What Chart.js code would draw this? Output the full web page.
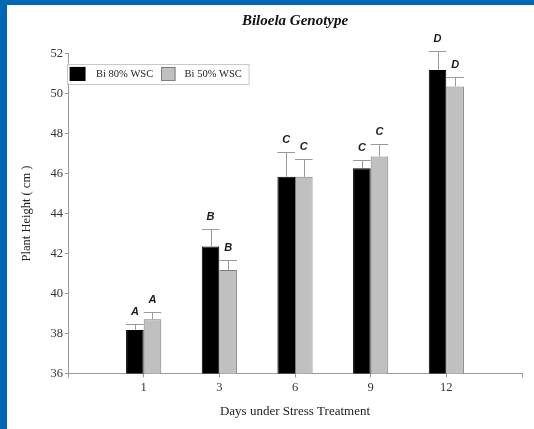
<!DOCTYPE html>
<html><head><meta charset="utf-8">
<script src="https://cdn.jsdelivr.net/npm/chart.js@4"></script>
<style>
html,body{margin:0;padding:0;background:#0068b4;width:534px;height:429px;overflow:hidden}
#wrap{position:absolute;left:7px;top:5px;width:527px;height:424px;background:#fff}
canvas{display:block}
</style></head><body><div id="wrap"><canvas id="c" width="527" height="424"></canvas></div>
<script>
// ---- data ----
const categories = ['1', '3', '6', '9', '12'];
const seriesNames = ['Bi 80% WSC', 'Bi 50% WSC'];
const bi80 = [38.18, 42.35, 45.84, 46.26, 51.18];
const bi50 = [38.71, 41.17, 45.84, 46.85, 50.35];
const err80 = [0.30, 0.85, 1.22, 0.44, 0.97];
const err50 = [0.38, 0.50, 0.86, 0.61, 0.45];
const letters80 = ['A', 'B', 'C', 'C', 'D'];
const letters50 = ['A', 'B', 'C', 'C', 'D'];
const yTicks = [36, 38, 40, 42, 44, 46, 48, 50, 52];

// empty slots before and after so the categories sit one interval in from each end
const pad = a => [null, ...a, null];
const xLabels = ['', ...categories, ''];

const SERIF = "'Liberation Serif', 'Times New Roman', serif";
const SANS = "'Liberation Sans', Arial, sans-serif";

const errorBarsPlugin = {
  id: 'errorBars',
  afterDatasetsDraw(chart) {
    const ctx = chart.ctx;
    const ys = chart.scales.y;
    chart.data.datasets.forEach((ds, i) => {
      const meta = chart.getDatasetMeta(i);
      meta.data.forEach((bar, j) => {
        const v = ds.data[j];
        if (v == null) return;
        const e = ds.errors[j];
        const x = Math.round(bar.x) + 0.5;
        const yTop = Math.round(ys.getPixelForValue(v + e)) + 0.5;
        const yBar = bar.y;
        const w = bar.width;
        ctx.save();
        ctx.strokeStyle = '#9a9a9a';
        ctx.lineWidth = 1;
        ctx.beginPath();
        ctx.moveTo(x, yBar);
        ctx.lineTo(x, yTop);
        ctx.moveTo(bar.x - w / 2, yTop);
        ctx.lineTo(bar.x + w / 2, yTop);
        ctx.stroke();
        // significance letter
        ctx.fillStyle = '#1a1a1a';
        ctx.font = 'italic bold 11px ' + SANS;
        ctx.textAlign = 'center';
        ctx.textBaseline = 'middle';
        ctx.fillText(ds.letters[j], bar.x, yTop - 12.5);
        ctx.restore();
      });
    });
  }
};

const innerLegendPlugin = {
  id: 'innerLegend',
  afterDraw(chart) {
    const ctx = chart.ctx;
    const ca = chart.chartArea;
    const x0 = ca.left - 1, y0 = ca.top + 10, w = 181.6, h = 20;
    ctx.save();
    ctx.fillStyle = '#fff';
    ctx.fillRect(x0, y0, w, h);
    ctx.strokeStyle = '#c8c8c8';
    ctx.lineWidth = 1;
    ctx.strokeRect(Math.round(x0) + 0.5, Math.round(y0) + 0.5, w, h);
    const items = [
      { sx: 2.6, sw: 15.5, tx: 29 },
      { sx: 94, sw: 14.5, tx: 117.6 }
    ];
    chart.data.datasets.forEach((ds, i) => {
      const it = items[i];
      ctx.fillStyle = ds.backgroundColor;
      ctx.fillRect(x0 + it.sx, y0 + 3.4, it.sw, 14);
      ctx.strokeStyle = ds.borderColor;
      ctx.strokeRect(Math.round(x0 + it.sx) + 0.5, Math.round(y0 + 3.4) + 0.5, it.sw - 1, 13);
      ctx.fillStyle = '#222';
      ctx.font = '10.5px ' + SERIF;
      ctx.textAlign = 'left';
      ctx.textBaseline = 'middle';
      ctx.fillText(ds.label, x0 + it.tx, y0 + 10.4);
    });
    ctx.restore();
  }
};

new Chart(document.getElementById('c'), {
  type: 'bar',
  data: {
    labels: xLabels,
    datasets: [
      {
        label: seriesNames[0],
        data: pad(bi80),
        errors: pad(err80),
        letters: pad(letters80),
        backgroundColor: '#000000',
        borderColor: '#000000',
        borderWidth: 1
      },
      {
        label: seriesNames[1],
        data: pad(bi50),
        errors: pad(err50),
        letters: pad(letters50),
        backgroundColor: '#c0c0c0',
        borderColor: '#7d7d7d',
        borderWidth: 1
      }
    ]
  },
  options: {
    responsive: false,
    animation: false,
    devicePixelRatio: 1,
    categoryPercentage: 0.465,
    barPercentage: 1,
    layout: { padding: { left: 0, right: 12, top: 0, bottom: 0 } },
    plugins: {
      legend: { display: false },
      tooltip: { enabled: false },
      title: {
        display: true,
        fullSize: false,
        text: 'Biloela Genotype',
        color: '#111',
        font: { family: SERIF, size: 15, style: 'italic', weight: 'bold' },
        padding: { top: 7.4, bottom: 23.1 }
      }
    },
    scales: {
      x: {
        type: 'category',
        offset: false,
        grid: { offset: false, drawOnChartArea: false, drawTicks: true, tickLength: 4, color: '#9a9a9a' },
        border: { color: '#9a9a9a', width: 1 },
        ticks: {
          color: '#333',
          font: { family: SERIF, size: 12.5 },
          padding: 3,
          maxRotation: 0,
          autoSkip: false
        },
        title: {
          display: true,
          text: 'Days under Stress Treatment',
          color: '#222',
          font: { family: SERIF, size: 13 },
          padding: { top: 0, bottom: 9.2 }
        },
        afterFit(scale) { scale.height = 55.5; }
      },
      y: {
        min: 36,
        max: 52,
        afterBuildTicks(scale) { scale.ticks = yTicks.map(v => ({ value: v })); },
        grid: { drawOnChartArea: false, drawTicks: true, tickLength: 3, color: '#9a9a9a' },
        border: { color: '#9a9a9a', width: 1 },
        ticks: {
          color: '#333',
          font: { family: SERIF, size: 12.5 },
          padding: 2
        },
        title: {
          display: true,
          text: 'Plant Height ( cm )',
          color: '#222',
          font: { family: SERIF, size: 12.5 },
          padding: { top: 12.2, bottom: 0 }
        },
        afterFit(scale) { scale.width = 61; }
      }
    }
  },
  plugins: [errorBarsPlugin, innerLegendPlugin]
});
</script>
</body></html>
